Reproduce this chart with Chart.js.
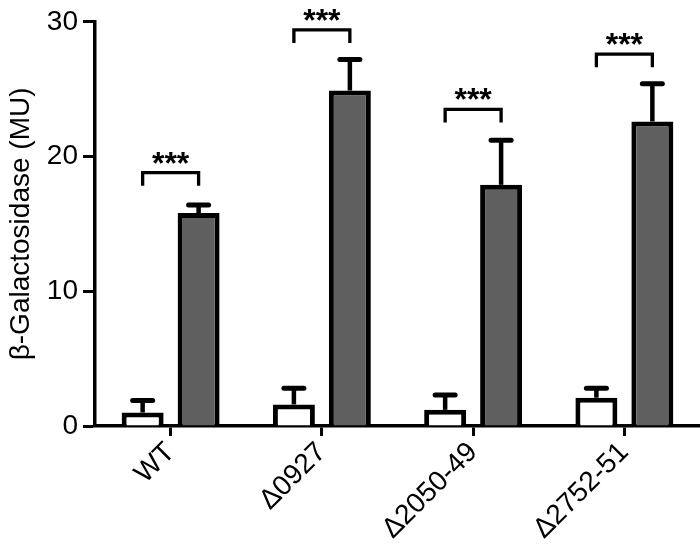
<!DOCTYPE html>
<html>
<head>
<meta charset="utf-8">
<script src="https://cdn.jsdelivr.net/npm/chart.js@4.4.1/dist/chart.umd.min.js"></script>
<style>
  html, body { margin: 0; padding: 0; background: #fff; }
  #wrap { width: 700px; height: 553px; }
</style>
</head>
<body>
<div id="wrap"><canvas id="chart"></canvas></div>
<script>
// data
const categories = ["WT", "\u03940927", "\u03942050-49", "\u03942752-51"];
const controlMeans = [1.0, 1.6, 1.2, 2.1];
const controlErr = [0.9, 1.2, 1.1, 0.7];
const inducedMeans = [15.8, 24.9, 17.9, 22.6];
const inducedErr = [0.6, 2.3, 3.3, 2.8];
const sigLabels = ["***", "***", "***", "***"];
const bracketLevels = [18.8, 29.4, 23.5, 27.6];
const yTicks = [0, 10, 20, 30];

const errors = [controlErr, inducedErr];

// upward-only error bars with round caps
const errorBars = {
    id: "errorBars",
    afterDatasetsDraw(chart) {
        const ctx = chart.ctx;
        const y = chart.scales.y;
        ctx.save();
        ctx.strokeStyle = "#000";
        chart.data.datasets.forEach((ds, di) => {
            const meta = chart.getDatasetMeta(di);
            meta.data.forEach((bar, i) => {
                const top = y.getPixelForValue(ds.data[i] + errors[di][i]);
                ctx.lineCap = "butt";
                ctx.lineWidth = 4.5;
                ctx.beginPath();
                ctx.moveTo(bar.x, bar.y);
                ctx.lineTo(bar.x, top);
                ctx.stroke();
                ctx.lineCap = "round";
                ctx.lineWidth = 5;
                ctx.beginPath();
                ctx.moveTo(bar.x - 10, top);
                ctx.lineTo(bar.x + 10, top);
                ctx.stroke();
            });
        });
        ctx.restore();
    }
};

// significance brackets between the two bars of each group
const brackets = {
    id: "brackets",
    afterDatasetsDraw(chart) {
        const ctx = chart.ctx;
        const y = chart.scales.y;
        const a = chart.getDatasetMeta(0).data;
        const b = chart.getDatasetMeta(1).data;
        ctx.save();
        ctx.strokeStyle = "#000";
        ctx.fillStyle = "#000";
        ctx.lineWidth = 3.3;
        ctx.lineCap = "butt";
        ctx.lineJoin = "miter";
        bracketLevels.forEach((lvl, i) => {
            const py = y.getPixelForValue(lvl);
            const x1 = a[i].x, x2 = b[i].x;
            ctx.beginPath();
            ctx.moveTo(x1, py + 13);
            ctx.lineTo(x1, py);
            ctx.lineTo(x2, py);
            ctx.lineTo(x2, py + 13);
            ctx.stroke();
            ctx.font = "bold 32px 'Liberation Sans', Arial, sans-serif";
            ctx.textAlign = "center";
            ctx.textBaseline = "alphabetic";
            ctx.fillText(sigLabels[i], (x1 + x2) / 2, py + 1);
        });
        ctx.restore();
    }
};

new Chart(document.getElementById("chart"), {
    type: "bar",
    data: {
        labels: categories,
        datasets: [
            {
                label: "control",
                data: controlMeans,
                backgroundColor: "#ffffff",
                borderColor: "#000000",
                borderWidth: 5,
                categoryPercentage: 0.74,
                barPercentage: 0.75
            },
            {
                label: "induced",
                data: inducedMeans,
                backgroundColor: "#5f5f5f",
                borderColor: "#000000",
                borderWidth: 5,
                categoryPercentage: 0.74,
                barPercentage: 0.75
            }
        ]
    },
    options: {
        responsive: true,
        maintainAspectRatio: false,
        animation: false,
        layout: { padding: { top: 19, right: 0, left: 0, bottom: 0 } },
        plugins: {
            legend: { display: false },
            tooltip: { enabled: false }
        },
        scales: {
            x: {
                offset: true,
                grid: {
                    offset: false,
                    drawOnChartArea: false,
                    tickLength: 10,
                    tickWidth: 3,
                    tickColor: "#000"
                },
                border: { display: true, color: "#000", width: 3.5 },
                ticks: {
                    color: "#000",
                    font: { family: "'Liberation Sans', Arial, sans-serif", size: 28 },
                    minRotation: 45,
                    maxRotation: 45,
                    padding: 0
                },
                afterFit(scale) { scale.height = 127; }
            },
            y: {
                min: 0,
                max: 30,
                afterBuildTicks(scale) { scale.ticks = yTicks.map(v => ({ value: v })); },
                grid: {
                    drawOnChartArea: false,
                    tickLength: 12,
                    tickWidth: 3,
                    tickColor: "#000"
                },
                border: { display: true, color: "#000", width: 3.5 },
                ticks: {
                    color: "#000",
                    font: { family: "'Liberation Sans', Arial, sans-serif", size: 28 },
                    padding: 5
                },
                title: {
                    display: true,
                    text: "\u03b2-Galactosidase (MU)",
                    color: "#000",
                    font: { family: "'Liberation Sans', Arial, sans-serif", size: 28 },
                    padding: { top: 4, bottom: 0 }
                },
                afterFit(scale) { scale.width = 95; }
            }
        }
    },
    plugins: [errorBars, brackets]
});
</script>
</body>
</html>
